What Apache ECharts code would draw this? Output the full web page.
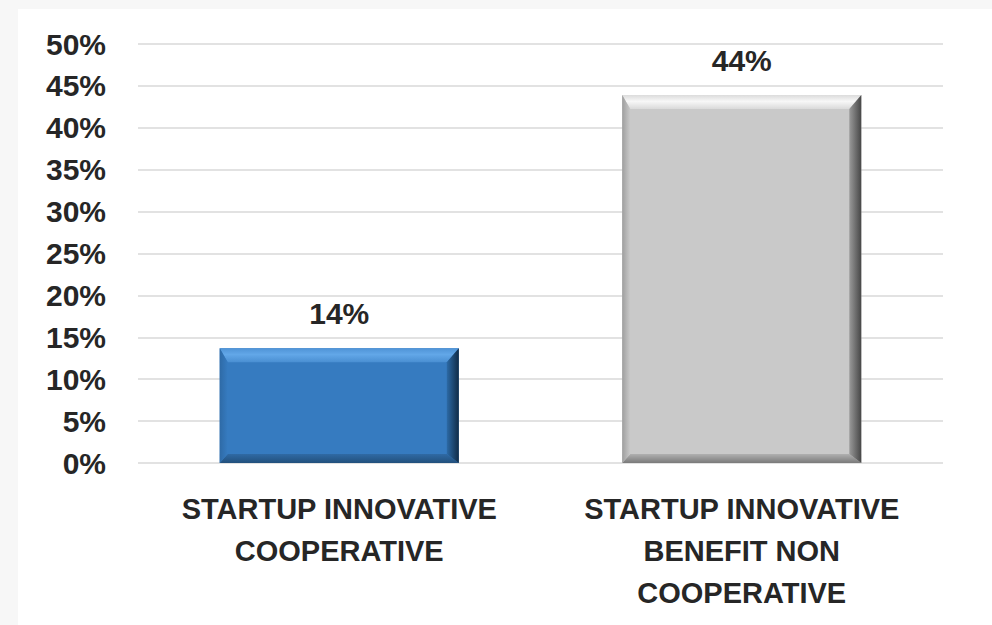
<!DOCTYPE html>
<html>
<head>
<meta charset="utf-8">
<script src="https://cdn.jsdelivr.net/npm/echarts@6/dist/echarts.min.js"></script>
<style>
  html, body { margin: 0; padding: 0; background: #f7f7f7; width: 992px; height: 625px; overflow: hidden; }
  #chart { position: absolute; left: 18px; top: 9px; width: 974px; height: 616px; background: #ffffff; }
</style>
</head>
<body>
<div id="chart"></div>
<script>
// ---- data ----
const categories = ['STARTUP INNOVATIVE\nCOOPERATIVE', 'STARTUP INNOVATIVE\nBENEFIT NON\nCOOPERATIVE'];
const values = [13.7, 43.9];
const yTicks = [0, 5, 10, 15, 20, 25, 30, 35, 40, 45, 50];

// ---- styles ----
const FONT = "'Liberation Sans', Arial, sans-serif";
const TEXT_COLOR = '#262626';
const palettes = [
  { main: '#367bc0', top: ['#4f93d6', '#62a7e8', '#4a8fd2'], right: ['#2c6aa6', '#112c47'], bottom: ['#2f6aa5', '#22507c'], left: ['#2e6aa6', '#367bc0'] },
  { main: '#c9c9c9', top: ['#dcdcdc', '#f7f7f7', '#d9d9d9'], right: ['#9a9a9a', '#464646'], bottom: ['#b0b0b0', '#7a7a7a'], left: ['#9e9e9e', '#c9c9c9'] }
];

const chart = echarts.init(document.getElementById('chart'), null, { renderer: 'svg' });

function renderItem(params, api) {
  const idx = api.value(0);
  const v = api.value(1);
  const topPt = api.coord([idx, v]);
  const basePt = api.coord([idx, 0]);
  const w = api.size([1, 0])[0] * 0.594;
  const x0 = topPt[0] - w / 2, x1 = topPt[0] + w / 2;
  const y0 = topPt[1], y1 = basePt[1];
  const bt = 14, br = 12, bb = 9, bl = 8;
  const p = palettes[params.dataIndex % palettes.length];
  const LG = echarts.graphic.LinearGradient;
  return {
    type: 'group',
    children: [
      { type: 'rect', shape: { x: x0, y: y0, width: w, height: y1 - y0 }, style: { fill: p.main } },
      { type: 'polygon', shape: { points: [[x0, y0], [x1, y0], [x1 - br, y0 + bt], [x0 + bl, y0 + bt]] },
        style: { fill: new LG(0, 0, 0, 1, [{ offset: 0, color: p.top[0] }, { offset: 0.45, color: p.top[1] }, { offset: 1, color: p.top[2] }]) } },
      { type: 'polygon', shape: { points: [[x0, y1], [x1, y1], [x1 - br, y1 - bb], [x0 + bl, y1 - bb]] },
        style: { fill: new LG(0, 0, 0, 1, [{ offset: 0, color: p.bottom[0] }, { offset: 1, color: p.bottom[1] }]) } },
      { type: 'polygon', shape: { points: [[x0, y0], [x0 + bl, y0 + bt], [x0 + bl, y1 - bb], [x0, y1]] },
        style: { fill: new LG(0, 0, 1, 0, [{ offset: 0, color: p.left[0] }, { offset: 1, color: p.left[1] }]) } },
      { type: 'polygon', shape: { points: [[x1, y0], [x1, y1], [x1 - br, y1 - bb], [x1 - br, y0 + bt]] },
        style: { fill: new LG(0, 0, 1, 0, [{ offset: 0, color: p.right[0] }, { offset: 1, color: p.right[1] }]) } },
      { type: 'text', style: { text: Math.round(v) + '%', x: topPt[0], y: y0 - 35, align: 'center', verticalAlign: 'middle',
        fontSize: 30, fontWeight: 'bold', fontFamily: FONT, fill: TEXT_COLOR } }
    ]
  };
}

chart.setOption({
  animation: false,
  backgroundColor: '#ffffff',
  grid: { left: 120, right: 49, top: 35, bottom: 162, containLabel: false },
  xAxis: {
    type: 'category',
    data: categories,
    axisLine: { show: false },
    axisTick: { show: false },
    axisLabel: { interval: 0, margin: 25, fontSize: 29, fontWeight: 'bold', fontFamily: FONT, color: TEXT_COLOR, lineHeight: 42, align: 'center', verticalAlign: 'top' }
  },
  yAxis: {
    type: 'value',
    min: yTicks[0],
    max: yTicks[yTicks.length - 1],
    interval: 5,
    axisLine: { show: false },
    axisTick: { show: false },
    splitLine: { lineStyle: { color: '#d9d9d9', width: 1.5 } },
    axisLabel: { margin: 32, fontSize: 30, fontWeight: 'bold', fontFamily: FONT, color: TEXT_COLOR, formatter: '{value}%' }
  },
  series: [{
    type: 'custom',
    renderItem: renderItem,
    encode: { x: 0, y: 1 },
    data: values.map((v, i) => [i, v])
  }]
});
</script>
</body>
</html>
